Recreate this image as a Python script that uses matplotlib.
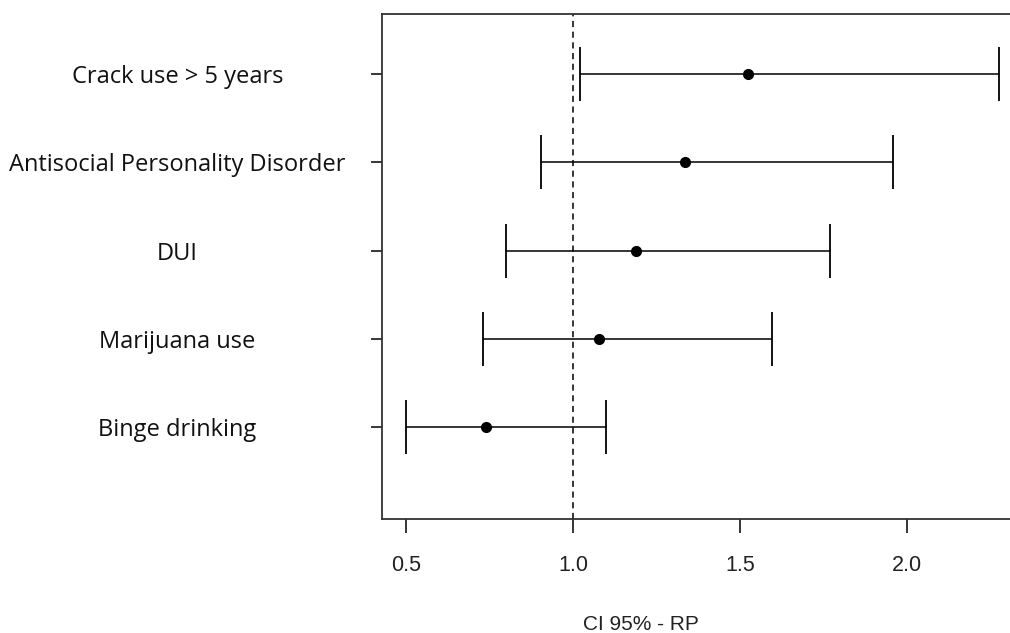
import matplotlib.pyplot as plt

labels = ["Crack use > 5 years", "Antisocial Personality Disorder", "DUI",
          "Marijuana use", "Binge drinking"]
rp = [1.524, 1.335, 1.189, 1.078, 0.74]
lower = [1.021, 0.904, 0.80, 0.73, 0.50]
upper = [2.275, 1.958, 1.77, 1.596, 1.099]
ypos = [5, 4, 3, 2, 1]

fig = plt.figure(figsize=(10.1, 6.33), dpi=100)
ax = fig.add_axes([0.378, 0.180, 0.622, 0.798])

err = [[r - l for r, l in zip(rp, lower)], [u - r for r, u in zip(rp, upper)]]
ax.errorbar(rp, ypos, xerr=err, fmt="o", color="black", ms=7, lw=1.1,
            capsize=19.5, capthick=1.3)
ax.axvline(1.0, color="black", lw=1.1, linestyle=(0, (4, 3)))

ax.set_xlim(0.428, 2.308)
ax.set_ylim(-0.04, 5.68)
ax.set_xticks([0.5, 1.0, 1.5, 2.0])
ax.set_xticklabels(["0.5", "1.0", "1.5", "2.0"], family="Liberation Sans", fontsize=15.5, color="#222222")
ax.set_yticks(ypos)
ax.set_yticklabels(labels, family="Open Sans", fontsize=17, ha="center", color="#111111")
ax.tick_params(axis="y", length=8, pad=139, width=1.1)
ax.tick_params(axis="x", length=10, pad=16, width=1.1)
ax.spines["right"].set_visible(False)
for s in ["left", "top", "bottom"]:
    ax.spines[s].set_linewidth(1.3)
    ax.spines[s].set_color("#333333")

ax.set_xlabel("CI 95% - RP", family="Liberation Sans", fontsize=15, color="#222222")
ax.xaxis.set_label_coords(0.413, -0.19)

plt.savefig("out.png", dpi=100)
